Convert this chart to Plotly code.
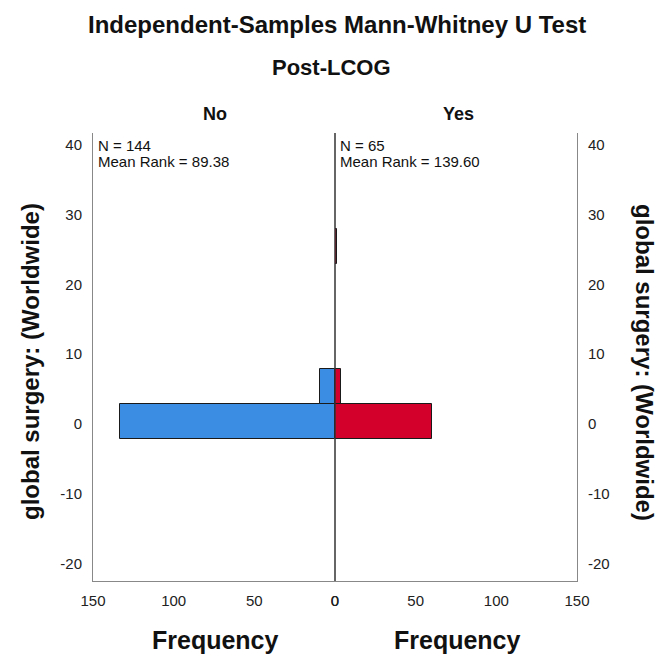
import plotly.graph_objects as go

# ---- data ----
bin_centers_no = [0.4, 5.4]
counts_no = [133, 9]
bin_centers_yes = [0.4, 5.4, 25.4]
counts_yes = [60, 4, 1]
bin_width = 5
group_labels = ["No", "Yes"]
n_text = ["N = 144", "N = 65"]
rank_text = ["Mean Rank = 89.38", "Mean Rank = 139.60"]
y_ticks = [-20, -10, 0, 10, 20, 30, 40]
y_ticktext = ["-20", "-10", "0", "10", "20", "30", "40"]
x_ticks = [0, 50, 100, 150]

W, H = 661, 659
L, R, T, B = 93, 577, 133, 581
FONT = "Liberation Sans, Arial, sans-serif"


def px(x):
    return (x - L) / (R - L)


def py(y):
    return (B - y) / (B - T)


fig = go.Figure()
fig.add_trace(go.Bar(
    x=counts_no, y=bin_centers_no, width=[bin_width] * len(counts_no),
    orientation="h", xaxis="x", yaxis="y",
    marker=dict(color="#3a8de3", line=dict(color="#1a1a1a", width=1)),
    showlegend=False, name="No"))
fig.add_trace(go.Bar(
    x=counts_yes, y=bin_centers_yes, width=[bin_width] * len(counts_yes),
    orientation="h", xaxis="x2", yaxis="y2",
    marker=dict(color="#d2002a", line=dict(color="#1a1a1a", width=1)),
    showlegend=False, name="Yes"))

yr = [-22.5, 41.7]
axis_common = dict(showgrid=False, zeroline=False, ticks="",
                   tickfont=dict(family=FONT, size=15, color="#222"))
fig.update_layout(
    width=W, height=H,
    margin=dict(l=L, r=W - R, t=T, b=H - B),
    paper_bgcolor="white", plot_bgcolor="white",
    bargap=0,
    xaxis=dict(domain=[0, 0.5], range=[150, 0], tickvals=x_ticks,
               showline=True, linecolor="#888", linewidth=1,
               ticklabelstandoff=6, anchor="y", **axis_common),
    xaxis2=dict(domain=[0.5, 1], range=[0, 150], tickvals=x_ticks,
                showline=True, linecolor="#888", linewidth=1,
                ticklabelstandoff=6, anchor="y2", **axis_common),
    yaxis=dict(range=yr, tickvals=y_ticks, ticktext=y_ticktext, anchor="x", side="left",
               showline=True, linecolor="#888", linewidth=1,
               ticklabelstandoff=7, **axis_common),
    yaxis2=dict(range=yr, tickvals=y_ticks, ticktext=y_ticktext, anchor="x2", side="right",
                showline=True, linecolor="#888", linewidth=1,
                ticklabelstandoff=7, **axis_common),
)

# center line
fig.add_shape(type="line", xref="paper", yref="paper", x0=0.5, x1=0.5,
              y0=0, y1=1, line=dict(color="#333", width=1.5))

ann = []
ann.append(dict(text="<b>Independent-Samples Mann-Whitney U Test</b>",
                x=px(337), y=py(25), font=dict(size=24)))
ann.append(dict(text="<b>Post-LCOG</b>", x=px(331), y=py(68), font=dict(size=22)))
ann.append(dict(text="<b>" + group_labels[0] + "</b>", x=px(215), y=py(114), font=dict(size=18)))
ann.append(dict(text="<b>" + group_labels[1] + "</b>", x=px(458), y=py(114), font=dict(size=18)))
ann.append(dict(text="<b>Frequency</b>", x=px(215), y=py(640), font=dict(size=25)))
ann.append(dict(text="<b>Frequency</b>", x=px(457), y=py(640), font=dict(size=25)))
ann.append(dict(text="<b>global surgery: (Worldwide)</b>", x=px(30), y=py(362),
                textangle=-90, font=dict(size=24)))
ann.append(dict(text="<b>global surgery: (Worldwide)</b>", x=px(645), y=py(362),
                textangle=90, font=dict(size=24)))
for i, x0 in enumerate([96, 338]):
    ann.append(dict(text=n_text[i], x=px(x0), y=py(146), xanchor="left",
                    font=dict(size=15)))
    ann.append(dict(text=rank_text[i], x=px(x0), y=py(161), xanchor="left",
                    font=dict(size=15)))

for a in ann:
    a.setdefault("xanchor", "center")
    a.setdefault("yanchor", "middle")
    a["xref"] = "paper"
    a["yref"] = "paper"
    a["showarrow"] = False
    f = a["font"]
    f["family"] = FONT
    f["color"] = "#111"
    fig.add_annotation(**a)

fig.write_html("out.html", config={"displayModeBar": False},
               post_script="document.body.style.margin='0';")
